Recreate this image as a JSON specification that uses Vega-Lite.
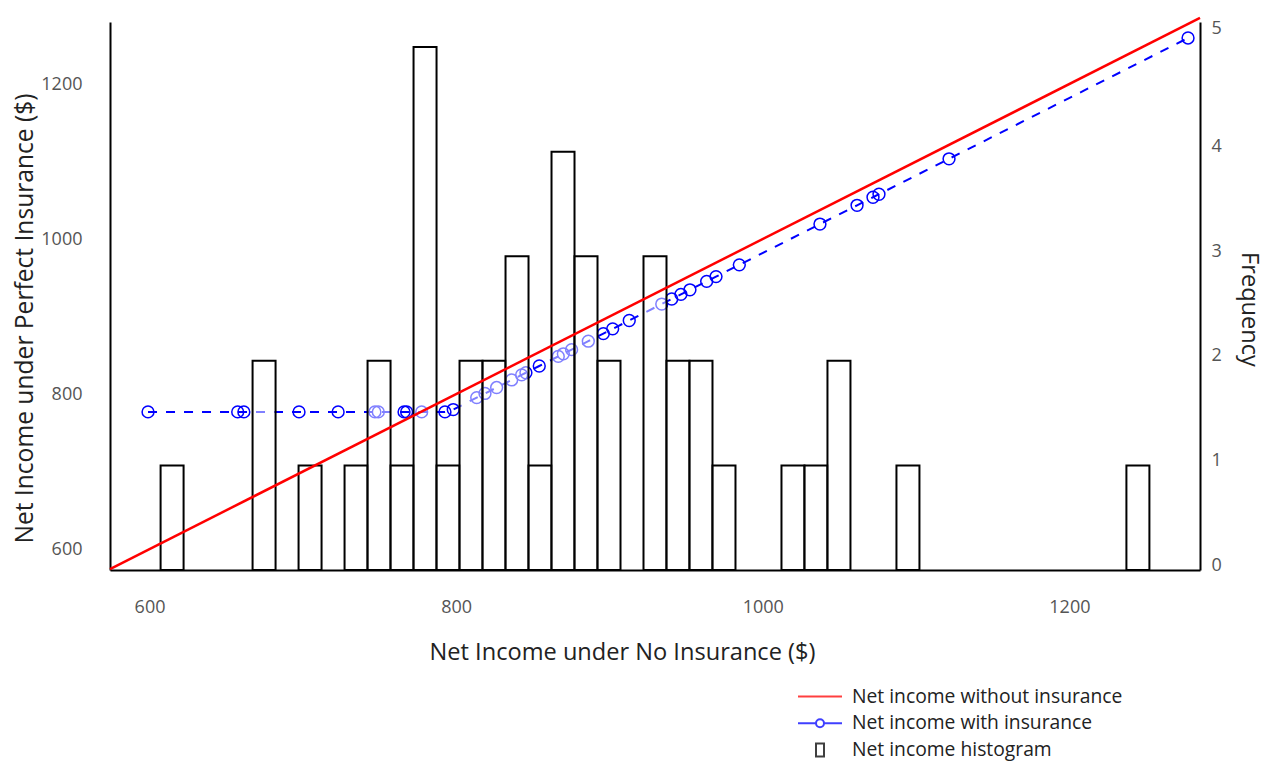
{
  "$schema": "https://vega.github.io/schema/vega-lite/v6.json",
  "width": 1090,
  "height": 548,
  "autosize": {"type": "none"},
  "padding": {"left": 110, "top": 22, "right": 68, "bottom": 194},
  "background": "white",
  "config": {
    "view": {"stroke": null},
    "font": "Open Sans",
    "axis": {
      "grid": false,
      "ticks": false,
      "domainColor": "black",
      "domainWidth": 2,
      "labelFont": "Open Sans",
      "labelFontSize": 18,
      "labelColor": "#555",
      "titleFont": "Open Sans",
      "titleFontSize": 23.6,
      "titleFontWeight": "normal",
      "titleColor": "#222",
      "format": "d"
    }
  },
  "datasets": {
    "ins": [
      {"x": 599, "y": 777},
      {"x": 657.5, "y": 777},
      {"x": 661.5, "y": 777},
      {"x": 697.5, "y": 777},
      {"x": 723, "y": 777},
      {"x": 747, "y": 777},
      {"x": 749.2, "y": 777},
      {"x": 766, "y": 777},
      {"x": 767.7, "y": 777},
      {"x": 777.5, "y": 777},
      {"x": 792.7, "y": 777},
      {"x": 798.1, "y": 780},
      {"x": 813.4, "y": 795.4},
      {"x": 818.8, "y": 800.8},
      {"x": 826.4, "y": 808.4},
      {"x": 836.2, "y": 818.2},
      {"x": 842.7, "y": 824.7},
      {"x": 845.5, "y": 827.5},
      {"x": 854.2, "y": 836.2},
      {"x": 866.6, "y": 848.6},
      {"x": 869.9, "y": 851.9},
      {"x": 875.3, "y": 857.3},
      {"x": 886.2, "y": 868.2},
      {"x": 896, "y": 878},
      {"x": 902.1, "y": 884.1},
      {"x": 912.9, "y": 894.9},
      {"x": 934.1, "y": 916.1},
      {"x": 940.6, "y": 922.6},
      {"x": 946.6, "y": 928.6},
      {"x": 952.5, "y": 934.5},
      {"x": 963.4, "y": 945.4},
      {"x": 969.5, "y": 951.5},
      {"x": 984.7, "y": 966.7},
      {"x": 1037.3, "y": 1019.3},
      {"x": 1061.5, "y": 1043.5},
      {"x": 1071.9, "y": 1053.9},
      {"x": 1075.8, "y": 1057.8},
      {"x": 1121.5, "y": 1103.5},
      {"x": 1277.4, "y": 1259.4}
    ],
    "noins": [
      {"x": 574.2, "y": 574.2},
      {"x": 1285.2, "y": 1285.2}
    ],
    "hist": [
      {"b0": 607.2, "b1": 622.2, "count": 1},
      {"b0": 667.2, "b1": 682.2, "count": 2},
      {"b0": 697.2, "b1": 712.2, "count": 1},
      {"b0": 727.2, "b1": 742.2, "count": 1},
      {"b0": 742.2, "b1": 757.2, "count": 2},
      {"b0": 757.2, "b1": 772.2, "count": 1},
      {"b0": 772.2, "b1": 787.2, "count": 5},
      {"b0": 787.2, "b1": 802.2, "count": 1},
      {"b0": 802.2, "b1": 817.2, "count": 2},
      {"b0": 817.2, "b1": 832.2, "count": 2},
      {"b0": 832.2, "b1": 847.2, "count": 3},
      {"b0": 847.2, "b1": 862.2, "count": 1},
      {"b0": 862.2, "b1": 877.2, "count": 4},
      {"b0": 877.2, "b1": 892.2, "count": 3},
      {"b0": 892.2, "b1": 907.2, "count": 2},
      {"b0": 922.2, "b1": 937.2, "count": 3},
      {"b0": 937.2, "b1": 952.2, "count": 2},
      {"b0": 952.2, "b1": 967.2, "count": 2},
      {"b0": 967.2, "b1": 982.2, "count": 1},
      {"b0": 1012.2, "b1": 1027.2, "count": 1},
      {"b0": 1027.2, "b1": 1042.2, "count": 1},
      {"b0": 1042.2, "b1": 1057.2, "count": 2},
      {"b0": 1087.2, "b1": 1102.2, "count": 1},
      {"b0": 1237.2, "b1": 1252.2, "count": 1}
    ],
    "legendrows": [
      {"s": "Net income without insurance"},
      {"s": "Net income with insurance"},
      {"s": "Net income histogram"}
    ]
  },
  "layer": [
    {
      "data": {"name": "ins"},
      "mark": {
        "type": "line",
        "color": "#0000ff",
        "strokeWidth": 2,
        "strokeDash": [9, 9],
        "point": {"shape": "circle", "filled": false, "size": 140, "strokeWidth": 1.5, "color": "#0000ff"}
      },
      "encoding": {
        "x": {
          "field": "x",
          "type": "quantitative",
          "scale": {"domain": [574.2, 1285.2], "nice": false, "zero": false},
          "axis": {
            "values": [600, 800, 1000, 1200],
            "title": "Net Income under No Insurance ($)",
            "labelPadding": 28,
            "titlePadding": 24,
            "titleX": 512
          }
        },
        "y": {
          "field": "y",
          "type": "quantitative",
          "scale": {"domain": [573, 1280], "nice": false, "zero": false},
          "axis": {
            "orient": "left",
            "values": [600, 800, 1000, 1200],
            "title": "Net Income under Perfect Insurance ($)",
            "titleFontSize": 24.6,
            "titleY": 296,
            "labelPadding": 28,
            "titlePadding": 3
          }
        }
      }
    },
    {
      "data": {"name": "hist"},
      "mark": {"type": "rect", "fill": "white", "fillOpacity": 0.5, "stroke": "black", "strokeWidth": 2},
      "encoding": {
        "x": {"field": "b0", "type": "quantitative"},
        "x2": {"field": "b1"},
        "y": {
          "field": "count",
          "type": "quantitative",
          "scale": {"domain": [0, 5.24], "nice": false, "zero": false},
          "axis": {
            "orient": "right",
            "values": [0, 1, 2, 3, 4, 5],
            "title": "Frequency",
            "titleY": 287,
            "labelPadding": 11,
            "titlePadding": 15,
            "labelOffset": {"condition": {"test": "datum.value == 5", "value": -19}, "value": -5}
          }
        },
        "y2": {"datum": 0}
      }
    },
    {
      "data": {"name": "noins"},
      "mark": {"type": "line", "color": "#ff0000", "strokeWidth": 2.5, "clip": false},
      "encoding": {
        "x": {"field": "x", "type": "quantitative"},
        "y": {
          "field": "y",
          "type": "quantitative",
          "scale": {"domain": [573, 1280], "nice": false, "zero": false},
          "axis": null
        }
      }
    },
    {
      "data": {"name": "legendrows"},
      "mark": {"type": "point", "filled": false, "invalid": "filter"},
      "encoding": {
        "x": {"field": "nx", "type": "quantitative"},
        "y": {
          "field": "ny",
          "type": "quantitative",
          "scale": {"domain": [573, 1280]},
          "axis": null
        },
        "color": {
          "field": "s",
          "type": "nominal",
          "scale": {
            "domain": ["Net income without insurance", "Net income with insurance", "Net income histogram"],
            "range": ["#ff0000", "#0000ff", "#000000"]
          },
          "legend": {
            "title": null,
            "orient": "none",
            "legendX": 699,
            "legendY": 663.5,
            "padding": 0,
            "symbolSize": 400,
            "symbolStrokeWidth": 2,
            "symbolOpacity": 0.75,
            "labelFont": "Open Sans",
            "labelFontSize": 19.3,
            "labelColor": "#222",
            "labelOffset": 21,
            "rowPadding": 4.8,
            "labelLimit": 400
          }
        },
        "shape": {
          "field": "s",
          "type": "nominal",
          "scale": {
            "domain": ["Net income without insurance", "Net income with insurance", "Net income histogram"],
            "range": [
              "M-2.2,0H2.2",
              "M-2.2,0H-0.4M0.4,0H2.2M-0.4,0A0.4,0.4,0,1,1,0.4,0A0.4,0.4,0,1,1,-0.4,0",
              "M-0.4,-0.65H0.4V0.65H-0.4Z"
            ]
          },
          "legend": {
            "title": null,
            "orient": "none",
            "legendX": 699,
            "legendY": 663.5,
            "padding": 0,
            "symbolSize": 400,
            "symbolStrokeWidth": 2,
            "symbolOpacity": 0.75,
            "labelFont": "Open Sans",
            "labelFontSize": 19.3,
            "labelColor": "#222",
            "labelOffset": 21,
            "rowPadding": 4.8,
            "labelLimit": 400
          }
        }
      }
    }
  ],
  "resolve": {"scale": {"y": "independent"}, "axis": {"y": "independent"}}
}
